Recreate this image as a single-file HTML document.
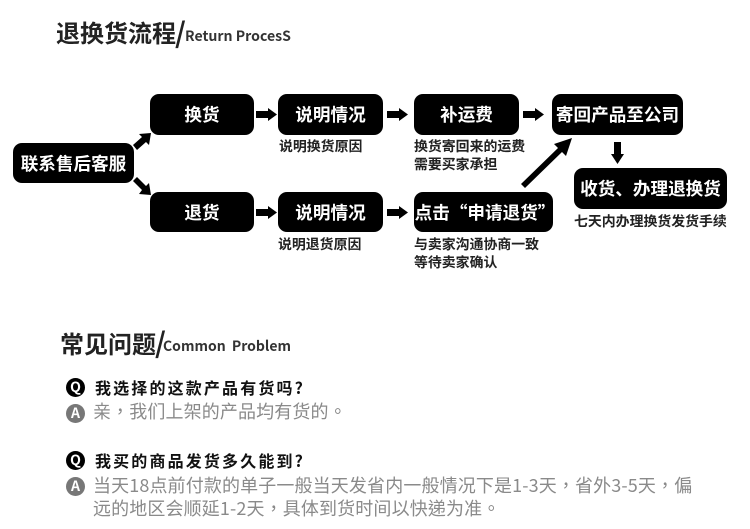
<!DOCTYPE html>
<html lang="zh"><head><meta charset="utf-8"><style>
html,body{margin:0;padding:0;background:#fff}
#p{position:relative;width:750px;height:529px;overflow:hidden;background:#fff;font-family:"Liberation Sans","Noto Sans CJK SC",sans-serif}
#p *{font-family:"Noto Sans CJK SC","Liberation Sans",sans-serif}
.b{position:absolute;background:#000;color:#fff;border-radius:9px;text-align:center;font-weight:700;font-size:17.6px;white-space:nowrap;display:flex;align-items:center;justify-content:center}
.t{position:absolute;white-space:nowrap;line-height:1}
.s{font-size:13.9px;font-weight:700;color:#222}
.q{font-size:16px;font-weight:700;color:#111;letter-spacing:2.15px}
#p .a{font-family:"Noto Sans CJK TC","Liberation Sans",sans-serif;font-size:18px;color:#8a8a8a;font-weight:400;letter-spacing:.13px}
.c{position:absolute;width:19px;height:19px;border-radius:50%;color:#fff;font-weight:700;font-size:14px;line-height:18px;text-align:center}
svg{position:absolute;left:0;top:0}
</style></head><body><div id="p">
<div class="t" style="left:56px;top:20px;font-size:24px;font-weight:700;color:#222">退换货流程</div>
<div class="t" style="left:175px;top:18px;font-size:28px;font-weight:700;color:#222">/</div>
<div class="t" style="left:185px;top:29px;font-size:14.100px;font-weight:700;color:#333">Return ProcesS</div>

<div class="b" style="left:13px;top:143px;width:121px;height:40px">联系售后客服</div>
<div class="b" style="left:150px;top:94px;width:104px;height:41px">换货</div>
<div class="b" style="left:278px;top:94px;width:105px;height:41px">说明情况</div>
<div class="b" style="left:414px;top:94px;width:105px;height:41px">补运费</div>
<div class="b" style="left:552px;top:94px;width:131px;height:41px">寄回产品至公司</div>
<div class="b" style="left:150px;top:192px;width:104px;height:40px">退货</div>
<div class="b" style="left:278px;top:192px;width:105px;height:40px">说明情况</div>
<div class="b" style="left:414px;top:192px;width:139px;height:40px;box-sizing:border-box;padding-left:3px">点击“申请退货”</div>
<div class="b" style="left:574px;top:168px;width:153px;height:41px">收货、办理退换货</div>

<svg width="750" height="529">
<g fill="#000">
<polygon points="256,111 268,111 268,108 277,114.500 268,121 268,118 256,118"/>
<polygon points="256,209 268,209 268,206 277,212.500 268,219 268,216 256,216"/>
<polygon points="387,111 399,111 399,108 408,114.500 399,121 399,118 387,118"/>
<polygon points="387,209 399,209 399,206 408,212.500 399,219 399,216 387,216"/>
<polygon points="523,111 535,111 535,108 544,114.500 535,121 535,118 523,118"/>
<polygon points="614,142 621,142 621,154 624,154 617.500,164 611,154 614,154"/>
<polygon points="133,145 142,137 139,134 151,133 149,145 146,142 137,150"/>
<polygon points="137,177 146,186 149,183 151,195 139,194 142,190 133,181"/>
<polygon points="521,184 558,148 554,144 572,138 566,156 562,152 525,188"/>
</g></svg>

<div class="t s" style="left:279px;top:140px">说明换货原因</div>
<div class="t s" style="left:278px;top:238px">说明退货原因</div>
<div class="t s" style="left:414px;top:140px">换货寄回来的运费</div>
<div class="t s" style="left:414px;top:158px">需要买家承担</div>
<div class="t s" style="left:414px;top:238px">与卖家沟通协商一致</div>
<div class="t s" style="left:414px;top:256px">等待卖家确认</div>
<div class="t s" style="left:574px;top:215px">七天内办理换货发货手续</div>

<div class="t" style="left:60px;top:331px;font-size:24px;font-weight:700;color:#222">常见问题</div>
<div class="t" style="left:155px;top:328px;font-size:28px;font-weight:700;color:#222">/</div>
<div class="t" style="left:163px;top:339px;font-size:14px;font-weight:700;color:#333;word-spacing:3px">Common Problem</div>

<div class="c" style="left:66px;top:378px;background:#000">Q</div>
<div class="t q" style="left:95px;top:379px">我选择的这款产品有货吗?</div>
<div class="c" style="left:66px;top:404px;background:#777">A</div>
<div class="t a" lang="zh-Hant" style="left:93px;top:402px">亲，我们上架的产品均有货的。</div>

<div class="c" style="left:66px;top:451px;background:#000">Q</div>
<div class="t q" style="left:95px;top:452px">我买的商品发货多久能到?</div>
<div class="c" style="left:66px;top:477px;background:#777">A</div>
<div class="t a" lang="zh-Hant" style="left:93px;top:476px">当天18点前付款的单子一般当天发省内一般情况下是1-3天，省外3-5天，偏</div>
<div class="t a" lang="zh-Hant" style="left:93px;top:499px">远的地区会顺延1-2天，具体到货时间以快递为准。</div>
</div></body></html>
